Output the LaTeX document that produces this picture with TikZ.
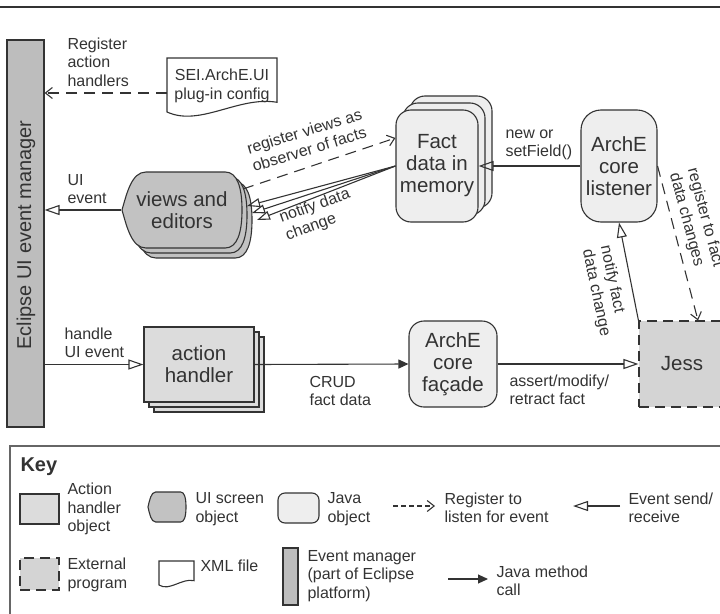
\documentclass[tikz,border=0pt]{standalone}
\usepackage{fontspec}
\setmainfont{Liberation Sans}
\usetikzlibrary{arrows.meta,calc}

\definecolor{ink}{HTML}{333333}
\definecolor{mgrfill}{HTML}{BDBDBD}
\definecolor{uifill}{HTML}{C2C2C2}
\definecolor{actfill}{HTML}{DCDCDC}
\definecolor{extfill}{HTML}{D4D4D4}
\definecolor{objfill}{HTML}{EEEEEE}

\tikzset{
  lbl/.style={inner sep=0pt, align=left, text=ink, font=\fontsize{16}{18.5}\selectfont},
  body/.style={inner sep=0pt, align=center, text=ink, font=\fontsize{20.5}{22}\selectfont},
  handler/.style={body, draw=ink, fill=actfill},
  javaobj/.style={body, draw=ink, fill=objfill, rounded corners=15pt},
  extprog/.style={body, draw=ink, fill=extfill, dash pattern=on 10pt off 6pt},
  evmgr/.style={inner sep=0pt, draw=ink, fill=mgrfill},
  scrfill/.style={draw=ink, fill=uifill},
  docfill/.style={draw=ink, fill=white},
  evt/.style={-{Triangle[open,length=15pt,width=10pt]}},
  call/.style={-{Triangle[length=10pt,width=9pt]}},
  reg/.style={dash pattern=on 11pt off 7pt, -{Straight Barb[length=7pt,width=11pt]}},
  % UI screen outline: pointed left side, rounded right side
  pics/screen/.style n args={2}{code={
    \draw[scrfill] (-0.5*#1,0)
      .. controls (-0.46*#1,-0.22*#2) and (-0.42*#1,-0.5*#2) .. (-0.3*#1,-0.5*#2)
      -- (0.36*#1,-0.5*#2)
      .. controls (0.46*#1,-0.5*#2) and (0.5*#1,-0.3*#2) .. (0.5*#1,0)
      .. controls (0.5*#1,0.3*#2) and (0.46*#1,0.5*#2) .. (0.36*#1,0.5*#2)
      -- (-0.3*#1,0.5*#2)
      .. controls (-0.42*#1,0.5*#2) and (-0.46*#1,0.22*#2) .. cycle;
  }},
  % file with wavy bottom edge
  pics/docfile/.style n args={2}{code={
    \draw[docfill] (-0.5*#1,-0.5*#2) -- (-0.5*#1,0.5*#2)
      .. controls (-0.2*#1,0.78*#2) and (0.15*#1,0.2*#2) .. (0.5*#1,0.32*#2)
      -- (0.5*#1,-0.5*#2) -- cycle;
  }},
}

\begin{document}
\begin{tikzpicture}[x=1pt, y=-1pt, line width=1.1pt, draw=ink]
  \useasboundingbox (0,0) rectangle (720,613);
  \draw[line width=1.5pt] (0,7) -- (720,7);

  % event manager bar
  \node[evmgr, minimum width=37pt, minimum height=387pt] (bar) at (25.5,233.5) {};
  \node[body, rotate=90, font=\fontsize{20}{22}\selectfont] (mgrtxt) at (26,235) {Eclipse UI event manager};

  % plug-in config file
  \pic at (222,85) {docfile={110}{54}};
  \node[lbl, minimum width=110pt, minimum height=54pt, align=center] (cfg) at (222,86) {SEI.ArchE.UI\\plug-in config};
  \coordinate (cfgout) at (167,93);
  \draw[reg] (cfgout) -- (cfgout -| bar.east);
  \node[lbl, anchor=west] (reglbl) at (67,62) {Register\\action\\handlers};

  % views and editors (stacked)
  \foreach \i in {2,1,0}
    \pic at (182+5*\i,210+5*\i) {screen={120}{76}};
  \node[body, minimum width=120pt, minimum height=76pt] (views) at (182,210) {views and\\editors};
  \draw[evt] (views.west) -- (views.west -| bar.east);
  \node[lbl, anchor=west] (uilbl) at (67,189) {UI\\event};

  % fact data (stacked)
  \foreach \i in {2,1}
    \node[javaobj, minimum width=82pt, minimum height=112pt] (fact\i) at (437+7*\i,166-7*\i) {};
  \node[javaobj, minimum width=82pt, minimum height=112pt] (fact) at (437,166) {Fact\\data in\\memory};

  % listener
  \node[javaobj, rounded corners=20pt, minimum width=76pt, minimum height=112pt] (lsn) at (619,166) {ArchE\\core\\listener};
  \draw[evt] (lsn.west) -- (fact.east);
  \node[lbl, anchor=west] (newlbl) at (505,145) {new or\\setField()};

  % views <-> facts
  \coordinate (vreg) at (243,189);
  \draw[reg] (vreg) -- ([yshift=28pt]fact.west);
  \node[lbl, rotate=17] (obslbl) at (307,140) {register views as\\observer of facts};
  \coordinate (vtip0) at (247,206);
  \coordinate (vtip1) at (252,213);
  \coordinate (vtip2) at (257,220);
  \foreach \i in {0,1,2}
    \draw[-{Triangle[open,length=13pt,width=9pt]}] (fact.west) -- (vtip\i);
  \node[lbl, rotate=20] (ntflbl) at (318,215) {notify data\\change};

  % action handler (stacked)
  \foreach \i in {2,1}
    \node[handler, minimum width=110pt, minimum height=75pt] (act\i) at (199+5*\i,364.5+5*\i) {};
  \node[handler, minimum width=110pt, minimum height=75pt] (act) at (199,364.5) {action\\handler};
  \draw[evt] (act.west -| bar.east) -- (act.west);
  \node[lbl, anchor=west] (hdllbl) at (64,343) {handle\\UI event};

  % facade and Jess
  \node[javaobj, minimum width=88pt, minimum height=86pt] (fcd) at (453,364) {ArchE\\core\\façade};
  \draw[call] (act.east) -- (fcd.west);
  \node[lbl, anchor=west] (crudlbl) at (309,391) {CRUD\\fact data};
  \node[extprog, minimum width=86pt, minimum height=86pt] (jess) at (682,364) {Jess};
  \draw[evt] (fcd.east) -- (jess.west);
  \node[lbl, anchor=west] (asrtlbl) at (509,390) {assert/modify/\\retract fact};

  % Jess <-> listener
  \draw[evt] (jess.north west) -- (lsn.south);
  \node[lbl, rotate=-78] (nflbl) at (605,291) {notify fact\\data change};
  \draw[reg] (lsn.east) -- ([xshift=16pt]jess.north);
  \node[lbl, rotate=-75] (rflbl) at (696,220) {register to fact\\data changes};

  % key
  \draw[draw=ink!75, line width=1.3pt] (10,446) rectangle (740,640);
  \node[lbl, anchor=west, font=\fontsize{20}{22}\selectfont\bfseries] (keyttl) at (20,467) {Key};

  \node[handler, minimum width=39pt, minimum height=30pt] (kact) at (39.5,509) {};
  \node[lbl, anchor=west] (kactlbl) at (67,509) {Action\\handler\\object};
  \pic at (167,507) {screen={38}{30}};
  \node[lbl, anchor=west] (kscrlbl) at (195,509) {UI screen\\object};
  \node[javaobj, rounded corners=7pt, minimum width=41pt, minimum height=30pt] (kobj) at (298.5,508) {};
  \node[lbl, anchor=west] (kobjlbl) at (327,509) {Java\\object};
  \coordinate (kr1) at (393,506);
  \coordinate (kr2) at (435,506);
  \draw[reg, dash pattern=on 5pt off 3pt] (kr1) -- (kr2);
  \node[lbl, anchor=west] (kreglbl) at (444,508) {Register to\\listen for event};
  \coordinate (ke1) at (620,506);
  \coordinate (ke2) at (573,506);
  \draw[evt] (ke1) -- (ke2);
  \node[lbl, anchor=west] (kevtlbl) at (628,508) {Event send/\\receive};

  \node[extprog, minimum width=39pt, minimum height=32pt] (kext) at (39.5,574) {};
  \node[lbl, anchor=west] (kextlbl) at (67,575) {External\\program};
  \pic at (176.5,573) {docfile={35}{24}};
  \node[lbl, anchor=west] (kxmllbl) at (200,566) {XML file};
  \node[evmgr, minimum width=15pt, minimum height=57pt] (kmgr) at (290.5,576.5) {};
  \node[lbl, anchor=west] (kmgrlbl) at (307,576) {Event manager\\(part of Eclipse\\platform)};
  \coordinate (kc1) at (448,579);
  \coordinate (kc2) at (488,579);
  \draw[call] (kc1) -- (kc2);
  \node[lbl, anchor=west] (kcalllbl) at (496,581) {Java method\\call};
\end{tikzpicture}
\end{document}
